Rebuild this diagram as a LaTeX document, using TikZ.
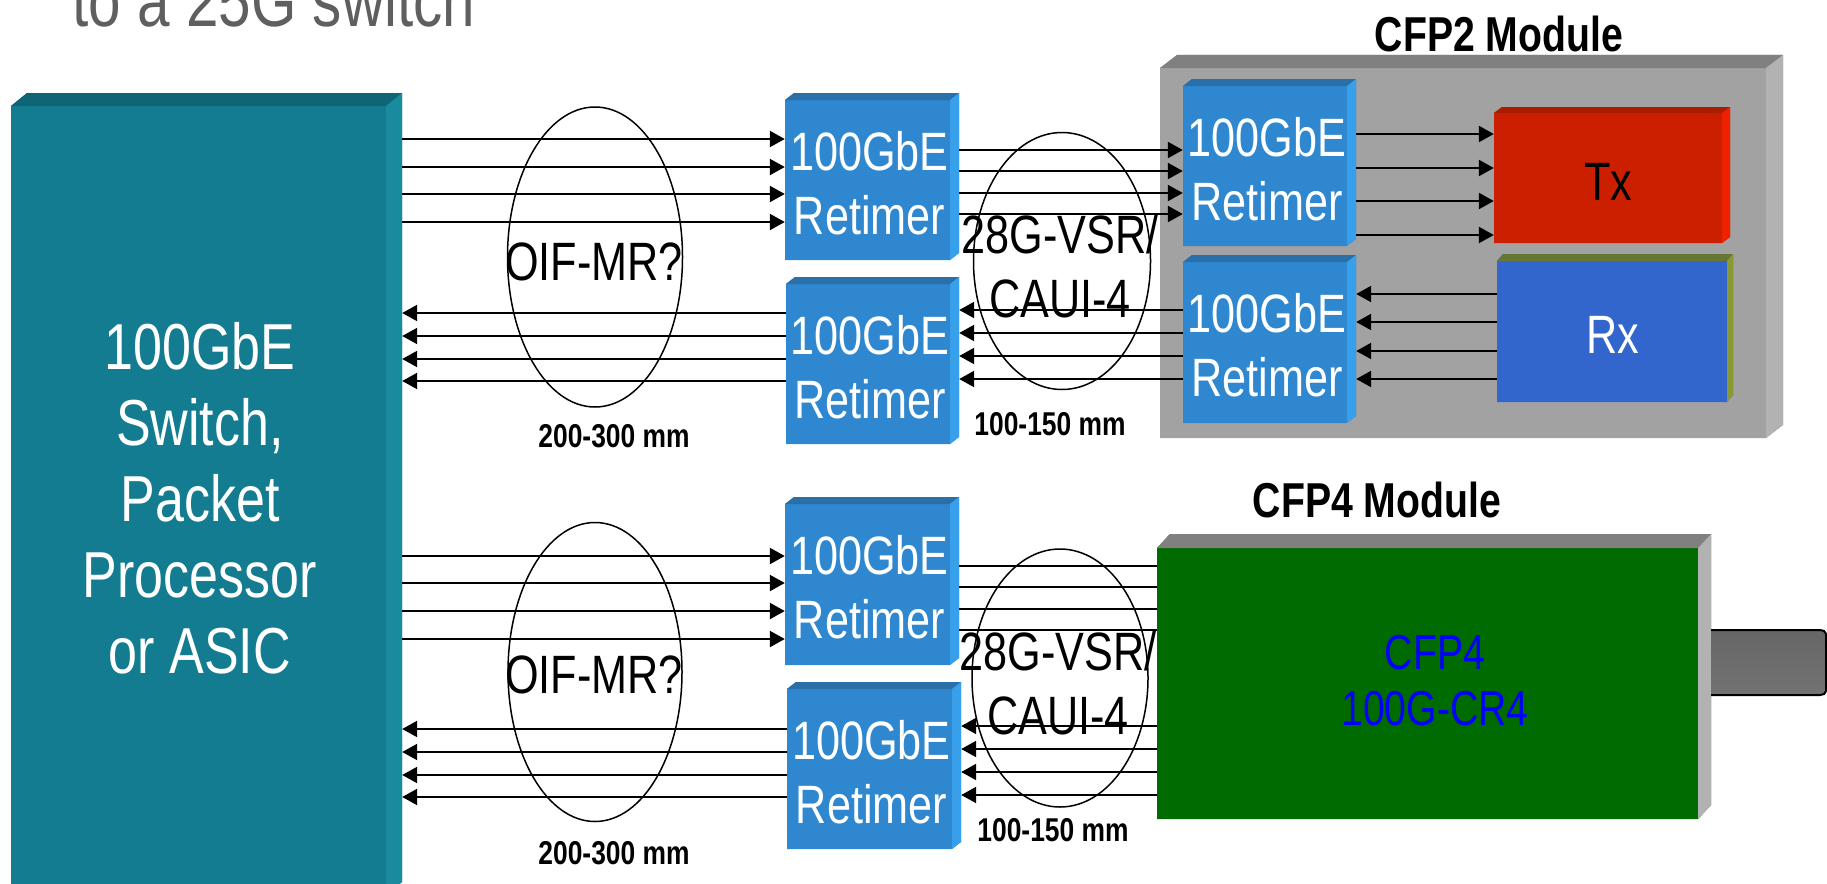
\documentclass[tikz,border=0pt]{standalone}
\usepackage{fontspec}
\setmainfont{Liberation Sans}
\usetikzlibrary{arrows.meta,shapes.geometric}
\definecolor{tealfront}{HTML}{137C90}
\definecolor{tealtop}{HTML}{0F6575}
\definecolor{tealside}{HTML}{1A8A9E}
\definecolor{bluefront}{HTML}{2F88CF}
\definecolor{bluetop}{HTML}{2A6FA8}
\definecolor{blueside}{HTML}{389FEA}
\definecolor{greyfront}{HTML}{A2A2A2}
\definecolor{greytop}{HTML}{808080}
\definecolor{greyside}{HTML}{B2B2B2}
\definecolor{redfront}{HTML}{CC1F00}
\definecolor{redtop}{HTML}{A81C00}
\definecolor{redside}{HTML}{EE2200}
\definecolor{rxfront}{HTML}{3366CC}
\definecolor{rxtop}{HTML}{667733}
\definecolor{rxside}{HTML}{8A9A33}
\definecolor{greenfront}{HTML}{006B00}
\definecolor{greentop}{HTML}{808080}
\definecolor{greenside}{HTML}{B2B2B2}
\definecolor{titlegrey}{HTML}{5F5F5F}
\newcommand{\slab}[8]{
  \fill[#8front] (#2,#3+#7) -- (#2+#6,#3) -- (#4,#3) -- (#4,#5-#7) -- (#4-#6,#5) -- (#2,#5) -- cycle;
  \fill[#8top] (#2,#3+#7) -- (#2+#6,#3) -- (#4,#3) -- (#4-#6,#3+#7) -- cycle;
  \fill[#8side] (#4-#6,#3+#7) -- (#4,#3) -- (#4,#5-#7) -- (#4-#6,#5) -- cycle;
  \node[inner sep=0,minimum width={(#4-#2)*1pt},minimum height={(#5-#3)*1pt}] (#1) at ({(#2+#4)/2},{(#3+#5)/2}) {};
}
\begin{document}
\begin{tikzpicture}[x=1pt,y=-1pt,
  wire/.style={line width=2.2pt,-{Triangle[length=15pt,width=16pt]}},
  bare/.style={line width=2.2pt},
  ring/.style={draw,ellipse,line width=1.5pt,inner sep=0},
  squeezed/.style={transform shape,xscale=0.8,inner sep=0,align=center},
  big/.style={squeezed,font=\fontsize{54}{64}\selectfont},
  small/.style={squeezed,font=\bfseries\fontsize{33}{38}\selectfont},
  heading/.style={squeezed,font=\bfseries\fontsize{49}{56}\selectfont}]
\useasboundingbox (0,0) rectangle (1827,883);
\clip (0,0) rectangle (1827,883);
\node[squeezed,text=titlegrey,font=\fontsize{73}{80}\selectfont,anchor=base] (slidetitle) at (274,27) {to a 25G switch};
\slab{asic}{11}{93}{402}{895}{16}{13}{teal}
\slab{cfptwo}{1160}{55}{1783}{438}{17}{13}{grey}
\slab{tx}{1494}{107}{1730}{243}{8}{6}{red}
\slab{rx}{1497}{254}{1733}{402}{6}{7}{rx}
\slab{cfpfour}{1157}{534}{1711}{819}{13}{14}{green}
\foreach \name/\xa/\ya/\xb/\yb in {ra/785/93/959/260,rb/786/277/959/444,rc/1183/79/1356/246,rd/1183/255/1356/423,re/785/497/959/665,rf/787/682/961/849} {
  \slab{\name}{\xa}{\ya}{\xb}{\yb}{9}{7}{blue}
  \node[big,text=white] (\name-label) at ({(\xa+\xb-9)/2+2},{(\ya+\yb+7)/2+3}) {100GbE\\Retimer};
}
\draw[line width=2pt,top color=black!60,bottom color=black!55] (cfpfour.east |- 0,630) -- (1820,630) to[out=0,in=90] (1826,634) -- (1826,691) to[out=-90,in=0] (1820,695) -- (cfpfour.east |- 0,695);
\foreach \y in {139,167,194,222}
  \draw[wire] (asic.east |- 0,\y) -- (ra.west |- 0,\y);
\foreach \y in {313,336,359,381}
  \draw[wire] (rb.west |- 0,\y) -- (asic.east |- 0,\y);
\foreach \y in {150,171,193,214}
  \draw[wire] (ra.east |- 0,\y) -- (rc.west |- 0,\y);
\foreach \y in {310,333,356,379}
  \draw[wire] (rd.west |- 0,\y) -- (rb.east |- 0,\y);
\foreach \y in {134,168,201,235}
  \draw[wire] (rc.east |- 0,\y) -- (tx.west |- 0,\y);
\foreach \y in {294,322,351,379}
  \draw[wire] (rx.west |- 0,\y) -- (rd.east |- 0,\y);
\foreach \y in {556,583,611,639}
  \draw[wire] (asic.east |- 0,\y) -- (re.west |- 0,\y);
\foreach \y in {729,752,775,797}
  \draw[wire] (rf.west |- 0,\y) -- (asic.east |- 0,\y);
\foreach \y in {566,587,609,630}
  \draw[bare] (re.east |- 0,\y) -- (cfpfour.west |- 0,\y);
\foreach \y in {726,749,772,795}
  \draw[wire] (cfpfour.west |- 0,\y) -- (rf.east |- 0,\y);
\node[ring,minimum width=175pt,minimum height=300pt] (mrtop) at (595,257) {};
\node[ring,minimum width=174pt,minimum height=299pt] (mrbottom) at (595,672) {};
\node[ring,minimum width=177pt,minimum height=257pt] (vsrtop) at (1062,261) {};
\node[ring,minimum width=176pt,minimum height=258pt] (vsrbottom) at (1060,678) {};
\node[squeezed,text=white,font=\fontsize{65}{76}\selectfont] (asic-label) at (200,498) {100GbE\\Switch,\\Packet\\Processor\\or ASIC};
\node[big] (mrtop-label) at (594,262) {OIF-MR?};
\node[big] (mrbottom-label) at (594,675) {OIF-MR?};
\node[big] (vsrtop-label) at (1060,266) {28G-VSR/\\CAUI-4};
\node[big] (vsrbottom-label) at (1058,683) {28G-VSR/\\CAUI-4};
\node[small] (mrtop-reach) at (614,436) {200-300 mm};
\node[small] (mrbottom-reach) at (614,853) {200-300 mm};
\node[small] (vsrtop-reach) at (1050,424) {100-150 mm};
\node[small] (vsrbottom-reach) at (1053,830) {100-150 mm};
\node[heading] (cfptwo-title) at (1499,34) {CFP2 Module};
\node[heading] (cfpfour-title) at (1377,500) {CFP4 Module};
\node[big] (tx-label) at (1608,182) {Tx};
\node[big,text=white] (rx-label) at (1613,335) {Rx};
\node[squeezed,text=blue,font=\fontsize{49}{56}\selectfont] (cfpfour-label) at (1435,681) {CFP4\\100G-CR4};
\end{tikzpicture}
\end{document}
